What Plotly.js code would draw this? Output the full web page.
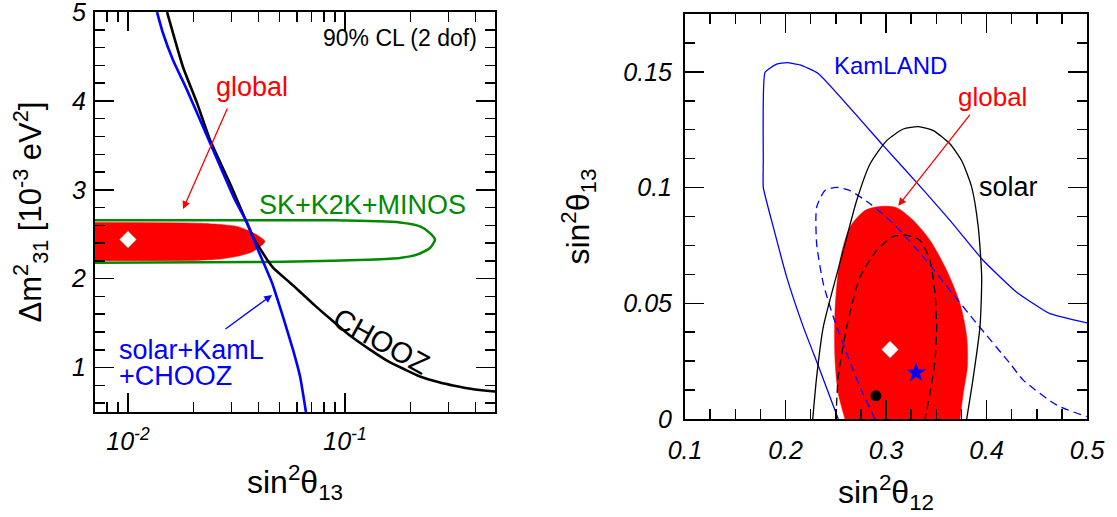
<!DOCTYPE html>
<html>
<head>
<meta charset="utf-8">
<script src="https://cdn.plot.ly/plotly-3.0.1.min.js"></script>
<style>html,body{margin:0;padding:0;background:#fff;}#chart{width:1117px;height:517px;}</style>
</head>
<body>
<div id="chart"></div>
<script>
// ---------- Left panel: sin^2(theta13) vs Delta m^2_31 ----------
const choozX = [0.01514, 0.01793, 0.0208, 0.02387, 0.02984, 0.03768, 0.04146, 0.0466, 0.0558, 0.06204, 0.07275, 0.08528, 0.10544, 0.13035, 0.15617, 0.18899, 0.2216, 0.27404, 0.31461, 0.3973, 0.49123, 0.54];
const choozY = [5.0, 4.382, 3.978, 3.562, 3.045, 2.472, 2.303, 2.124, 1.955, 1.854, 1.697, 1.551, 1.360, 1.202, 1.079, 0.978, 0.899, 0.831, 0.798, 0.753, 0.730, 0.725];

const solKamX = [0.01361, 0.01449, 0.01612, 0.0187, 0.0239, 0.0311, 0.0354, 0.0397, 0.0461, 0.0518, 0.0576, 0.0621, 0.0661];
const solKamY = [5.0, 4.764, 4.461, 4.124, 3.528, 2.888, 2.63, 2.326, 1.955, 1.573, 1.202, 0.899, 0.50];

const skX = [0.005, 0.0881, 0.1793, 0.222, 0.2465, 0.260, 0.2465, 0.2148, 0.1793, 0.1264, 0.0881, 0.0437, 0.005];
const skY = [2.657, 2.657, 2.633, 2.588, 2.513, 2.438, 2.345, 2.270, 2.233, 2.213, 2.202, 2.188, 2.176];

const globalLX = [0.005, 0.0215, 0.0318, 0.0377, 0.0428, 0.0377, 0.0318, 0.0266, 0.0215, 0.005];
const globalLY = [2.633, 2.624, 2.588, 2.517, 2.419, 2.307, 2.251, 2.221, 2.208, 2.202];

const bestLX = [0.01];
const bestLY = [2.44];

const leftXTicks = [0.01, 0.1];
const leftXTickText = ['10<sup>-2</sup>', '10<sup>-1</sup>'];
const leftXMinor = [0.007, 0.008, 0.009, 0.02, 0.03, 0.04, 0.05, 0.06, 0.07, 0.08, 0.09, 0.2, 0.3, 0.4];
const leftYTicks = [1, 2, 3, 4, 5];

// ---------- Right panel: sin^2(theta12) vs sin^2(theta13) ----------
const kamX = [0.2525, 0.2343, 0.2177, 0.2012, 0.1879, 0.1779, 0.1779, 0.1796, 0.1912, 0.2012, 0.2144, 0.2326, 0.2973, 0.3371, 0.3637, 0.3968, 0.430, 0.4632, 0.5];
const kamY = [0, 0.0211, 0.0398, 0.0613, 0.0829, 0.1001, 0.1116, 0.1497, 0.1533, 0.154, 0.153, 0.1493, 0.1181, 0.0990, 0.0858, 0.0685, 0.0548, 0.0455, 0.0415];

const kamDashX = [0.289, 0.2741, 0.2609, 0.2476, 0.2376, 0.2310, 0.2310, 0.2393, 0.2509, 0.2642, 0.2841, 0.3073, 0.3371, 0.3637, 0.3902, 0.4234, 0.4366, 0.4699, 0.4997];
const kamDashY = [0, 0.0139, 0.0283, 0.0441, 0.0585, 0.0757, 0.0915, 0.0987, 0.1001, 0.0987, 0.0930, 0.0844, 0.070, 0.0556, 0.0413, 0.024, 0.0168, 0.006, 0.001];

const solarX = [0.2271, 0.2310, 0.2376, 0.2476, 0.2575, 0.2708, 0.2841, 0.3007, 0.3172, 0.3321, 0.3471, 0.3637, 0.3753, 0.3853, 0.3918, 0.3952, 0.3935, 0.3869, 0.3803];
const solarY = [0, 0.0182, 0.0398, 0.057, 0.0728, 0.0944, 0.1102, 0.1203, 0.1253, 0.1263, 0.1246, 0.1188, 0.1116, 0.1001, 0.0829, 0.0613, 0.0398, 0.0182, 0];

const solarDashX = [0.2502, 0.2525, 0.2609, 0.2741, 0.2907, 0.3073, 0.3206, 0.3338, 0.3438, 0.3488, 0.3504, 0.3488, 0.3438, 0.3388];
const solarDashY = [0, 0.0182, 0.0398, 0.0613, 0.0728, 0.0789, 0.0794, 0.0772, 0.0685, 0.0542, 0.0398, 0.0254, 0.0111, 0];

const globalRX = [0.2592, 0.2525, 0.2493, 0.2493, 0.2542, 0.2642, 0.2791, 0.2957, 0.3106, 0.3272, 0.3438, 0.3604, 0.3736, 0.3803, 0.3809, 0.3769, 0.3736];
const globalRY = [0, 0.0111, 0.0254, 0.047, 0.0685, 0.0829, 0.0901, 0.0919, 0.0913, 0.0858, 0.0772, 0.0642, 0.0499, 0.0355, 0.0225, 0.0111, 0];

const bestRX = [0.304], bestRY = [0.03];
const starX = [0.33], starY = [0.02];
const dotX = [0.29], dotY = [0.01];

const rightXTicks = [0.1, 0.2, 0.3, 0.4, 0.5];
const rightXTickText = ['0.1', '0.2', '0.3', '0.4', '0.5'];
const rightYTicks = [0, 0.05, 0.1, 0.15];
const rightYTickText = ['0', '0.05', '0.1', '0.15'];

// ---------- build ----------
const FONT = 'Liberation Sans, Arial, Helvetica, sans-serif';
const RED = '#ff0000', BLUE = '#0000ff', GREEN = '#008a00';

const traces = [
  {x: globalLX, y: globalLY, xaxis: 'x', yaxis: 'y', mode: 'lines', fill: 'toself', fillcolor: RED,
   line: {color: RED, width: 0.5, shape: 'spline', smoothing: 0.6}, hoverinfo: 'skip', showlegend: false},
  {x: skX, y: skY, xaxis: 'x', yaxis: 'y', mode: 'lines',
   line: {color: GREEN, width: 2.5, shape: 'spline', smoothing: 0.6}, showlegend: false},
  {x: choozX, y: choozY, xaxis: 'x', yaxis: 'y', mode: 'lines',
   line: {color: '#000', width: 2.6, shape: 'spline', smoothing: 0.5}, showlegend: false},
  {x: solKamX, y: solKamY, xaxis: 'x', yaxis: 'y', mode: 'lines',
   line: {color: BLUE, width: 2.6, shape: 'spline', smoothing: 0.5}, showlegend: false},
  {x: bestLX, y: bestLY, xaxis: 'x', yaxis: 'y', mode: 'markers',
   marker: {symbol: 'diamond', size: 13, color: '#fff'}, showlegend: false},

  {x: globalRX, y: globalRY, xaxis: 'x2', yaxis: 'y2', mode: 'lines', fill: 'toself', fillcolor: RED,
   line: {color: RED, width: 0.5, shape: 'spline', smoothing: 0.8}, showlegend: false},
  {x: kamX, y: kamY, xaxis: 'x2', yaxis: 'y2', mode: 'lines',
   line: {color: BLUE, width: 1.3, shape: 'spline', smoothing: 0.4}, showlegend: false},
  {x: kamDashX, y: kamDashY, xaxis: 'x2', yaxis: 'y2', mode: 'lines',
   line: {color: BLUE, width: 1.3, dash: '8px,5px', shape: 'spline', smoothing: 0.6}, showlegend: false},
  {x: solarX, y: solarY, xaxis: 'x2', yaxis: 'y2', mode: 'lines',
   line: {color: '#000', width: 1.3, shape: 'spline', smoothing: 0.6}, showlegend: false},
  {x: solarDashX, y: solarDashY, xaxis: 'x2', yaxis: 'y2', mode: 'lines',
   line: {color: '#000', width: 1.3, dash: '8px,5px', shape: 'spline', smoothing: 0.6}, showlegend: false},
  {x: bestRX, y: bestRY, xaxis: 'x2', yaxis: 'y2', mode: 'markers',
   marker: {symbol: 'diamond', size: 13, color: '#fff'}, showlegend: false},
  {x: starX, y: starY, xaxis: 'x2', yaxis: 'y2', mode: 'markers',
   marker: {symbol: 'star', size: 15, color: BLUE}, showlegend: false},
  {x: dotX, y: dotY, xaxis: 'x2', yaxis: 'y2', mode: 'markers',
   marker: {symbol: 'circle', size: 11, color: '#000'}, showlegend: false}
];

const tickFont = {family: FONT, size: 25, color: '#000', style: 'italic'};
const titleFont = {family: FONT, size: 32, color: '#000'};
function axisBase(extra) {
  return Object.assign({
    showline: true, linecolor: '#000', linewidth: 2, mirror: 'ticks',
    ticks: 'inside', ticklen: 19, tickwidth: 1.5, tickcolor: '#000',
    showgrid: false, zeroline: false, tickfont: tickFont, fixedrange: true,
    ticklabeloverflow: 'allow'
  }, extra);
}
const minorBase = {ticks: 'inside', ticklen: 10, tickwidth: 1.5, tickcolor: '#000'};

const W = 1117, H = 517;
const layout = {
  width: W, height: H,
  margin: {l: 0, r: 0, t: 0, b: 0},
  paper_bgcolor: '#fff', plot_bgcolor: '#fff',
  font: {family: FONT, color: '#000'},
  showlegend: false,
  xaxis: axisBase({
    type: 'log', domain: [95 / W, 495 / W], range: [Math.log10(0.007047), Math.log10(0.4915)],
    tickmode: 'array', tickvals: leftXTicks, ticktext: leftXTickText, ticklabelstandoff: 6,
    minor: Object.assign({tickmode: 'array', tickvals: leftXMinor}, minorBase),
    title: {text: 'sin<sup>2</sup>θ<sub>13</sub>', font: titleFont, standoff: 17}, anchor: 'y'
  }),
  yaxis: axisBase({
    domain: [(H - 412) / H, (H - 12) / H], range: [0.5, 5.0005],
    tickmode: 'array', tickvals: leftYTicks, ticklabelstandoff: 2,
    minor: Object.assign({dtick: 0.2, tick0: 0}, minorBase),
    title: {text: 'Δm<sup>2</sup><sub>31</sub> [10<sup>-3</sup> eV<sup>2</sup>]', font: {family: FONT, size: 31, color: '#000'}, standoff: 20},
    anchor: 'x'
  }),
  xaxis2: axisBase({
    domain: [685 / W, 1087 / W], range: [0.1, 0.5],
    tickmode: 'array', tickvals: rightXTicks, ticktext: rightXTickText, ticklabelstandoff: 8,
    minor: Object.assign({dtick: 0.025, tick0: 0}, minorBase),
    title: {text: 'sin<sup>2</sup>θ<sub>12</sub>', font: titleFont, standoff: 18}, anchor: 'y2'
  }),
  yaxis2: axisBase({
    domain: [(H - 419) / H, (H - 14) / H], range: [0, 0.175],
    tickmode: 'array', tickvals: rightYTicks, ticktext: rightYTickText, ticklabelstandoff: 6,
    minor: Object.assign({dtick: 0.0125, tick0: 0}, minorBase),
    title: {text: 'sin<sup>2</sup>θ<sub>13</sub>', font: titleFont, standoff: 24}, anchor: 'x2'
  }),
  annotations: [
    {xref: 'paper', yref: 'paper', x: 399.5 / W, y: 1 - 38 / H, text: '90% CL (2 dof)', showarrow: false,
     font: {family: FONT, size: 23, color: '#000'}, xanchor: 'center', yanchor: 'middle'},
    {xref: 'paper', yref: 'paper', x: 251.5 / W, y: 1 - 87 / H, text: 'global', showarrow: false,
     font: {family: FONT, size: 27, color: RED}, xanchor: 'center', yanchor: 'middle'},
    {xref: 'paper', yref: 'paper', x: 183 / W, y: 1 - 209 / H, text: '', showarrow: true,
     ax: 45, ay: -102, arrowhead: 2, arrowsize: 1.2, arrowwidth: 1.3, arrowcolor: RED, standoff: 0},
    {xref: 'paper', yref: 'paper', x: 362 / W, y: 1 - 205 / H, text: 'SK+K2K+MINOS', showarrow: false,
     font: {family: FONT, size: 27, color: GREEN}, xanchor: 'center', yanchor: 'middle'},
    {xref: 'paper', yref: 'paper', x: 117 / W, y: 1 - 350 / H, text: 'solar+KamL', showarrow: false,
     font: {family: FONT, size: 27, color: BLUE}, xanchor: 'left', yanchor: 'middle'},
    {xref: 'paper', yref: 'paper', x: 117 / W, y: 1 - 376 / H, text: '+CHOOZ', showarrow: false,
     font: {family: FONT, size: 27, color: BLUE}, xanchor: 'left', yanchor: 'middle'},
    {xref: 'paper', yref: 'paper', x: 272 / W, y: 1 - 295 / H, text: '', showarrow: true,
     ax: -48, ay: 35, arrowhead: 2, arrowsize: 1.2, arrowwidth: 1.3, arrowcolor: BLUE, standoff: 0},
    {xref: 'paper', yref: 'paper', x: 381 / W, y: 1 - 341 / H, text: 'CHOOZ', showarrow: false, textangle: 29,
     font: {family: FONT, size: 29, color: '#000'}, xanchor: 'center', yanchor: 'middle'},

    {xref: 'paper', yref: 'paper', x: 890.5 / W, y: 1 - 65 / H, text: 'KamLAND', showarrow: false,
     font: {family: FONT, size: 24, color: BLUE}, xanchor: 'center', yanchor: 'middle'},
    {xref: 'paper', yref: 'paper', x: 992 / W, y: 1 - 97 / H, text: 'global', showarrow: false,
     font: {family: FONT, size: 26, color: RED}, xanchor: 'center', yanchor: 'middle'},
    {xref: 'paper', yref: 'paper', x: 898.3 / W, y: 1 - 205.7 / H, text: '', showarrow: true,
     ax: 72.7, ay: -92.4, arrowhead: 2, arrowsize: 1.2, arrowwidth: 1.3, arrowcolor: RED, standoff: 0},
    {xref: 'paper', yref: 'paper', x: 1008.5 / W, y: 1 - 187 / H, text: 'solar', showarrow: false,
     font: {family: FONT, size: 27, color: '#000'}, xanchor: 'center', yanchor: 'middle'}
  ]
};

Plotly.newPlot('chart', traces, layout, {staticPlot: true, displayModeBar: false});
</script>
</body>
</html>
